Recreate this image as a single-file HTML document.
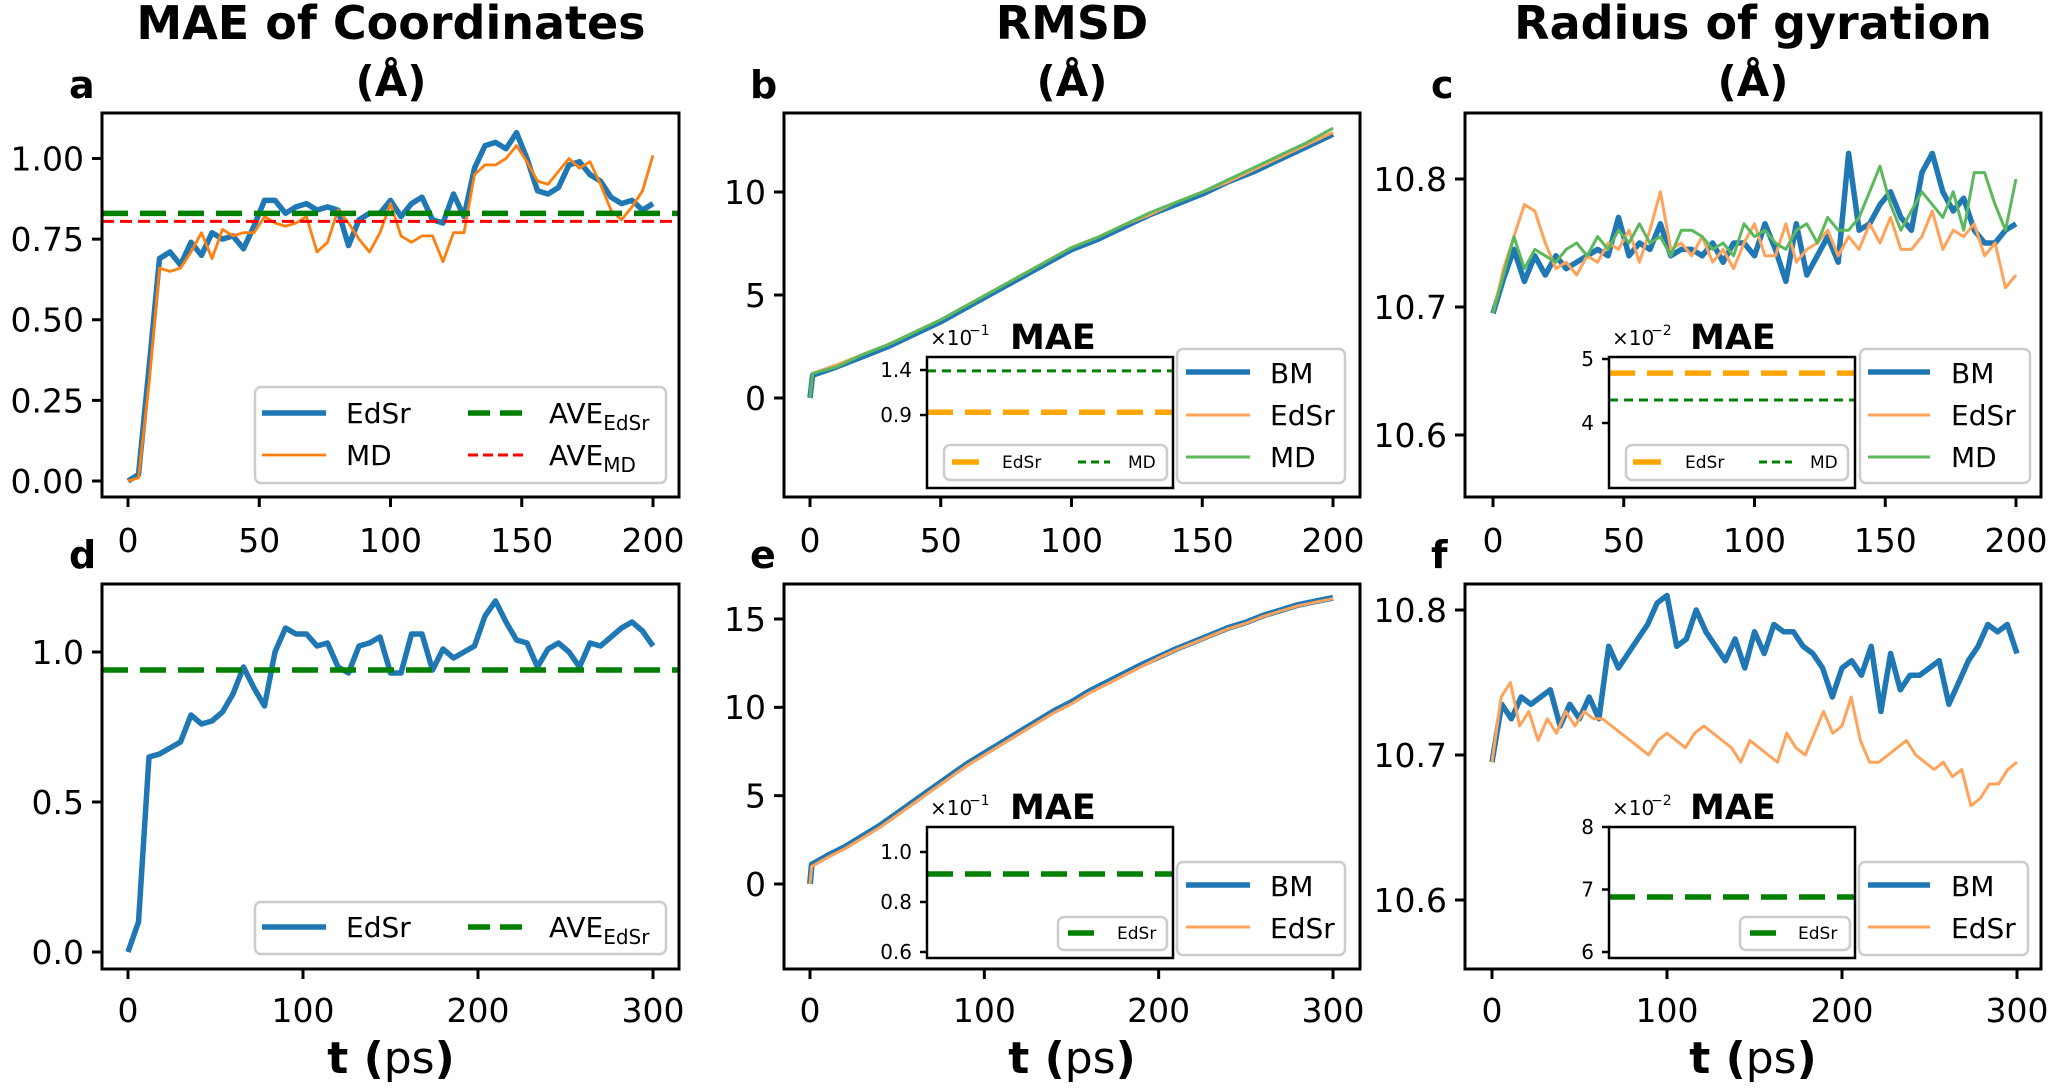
<!DOCTYPE html>
<html><head><meta charset="utf-8"><style>
html,body{margin:0;padding:0;background:#fff;}
svg{display:block;font-family:"DejaVu Sans","Liberation Sans",sans-serif;}
</style></head><body>
<svg id="fig" width="2048" height="1090" viewBox="0 0 2048 1090" xmlns="http://www.w3.org/2000/svg"></svg>
<script>
// ---------- data ----------
const aTicksX = [0,50,100,150,200];
const aTicksY = [0,0.25,0.5,0.75,1.0];
const aTickLabelsY = ["0.00","0.25","0.50","0.75","1.00"];
const aEdSr = [0.0,0.02,0.35,0.69,0.71,0.67,0.74,0.70,0.77,0.75,0.76,0.72,0.79,0.87,0.87,0.83,0.85,0.86,0.84,0.85,0.84,0.73,0.81,0.83,0.83,0.87,0.82,0.86,0.88,0.81,0.80,0.89,0.82,0.97,1.04,1.05,1.03,1.08,1.00,0.90,0.89,0.91,0.98,0.99,0.95,0.93,0.88,0.86,0.87,0.84,0.86];
const aMD = [0.0,0.01,0.30,0.66,0.65,0.66,0.71,0.77,0.69,0.78,0.76,0.77,0.77,0.82,0.80,0.79,0.80,0.82,0.71,0.74,0.84,0.80,0.75,0.71,0.77,0.86,0.76,0.74,0.76,0.76,0.68,0.77,0.77,0.95,0.98,0.98,1.00,1.04,0.99,0.93,0.92,0.96,1.00,0.97,0.99,0.92,0.84,0.81,0.85,0.90,1.01];
const aAveEdSr = 0.83;
const aAveMD = 0.805;

const bTime = [0,1,10,20,30,40,50,60,70,80,90,100,110,120,130,140,150,160,170,180,190,200];
const bBM   = [0,1.1,1.5,2.0,2.5,3.1,3.7,4.4,5.1,5.8,6.5,7.2,7.7,8.3,8.9,9.4,9.9,10.5,11.0,11.6,12.2,12.8];
const bEdSr = [0,1.2,1.6,2.1,2.6,3.2,3.8,4.5,5.2,5.9,6.6,7.3,7.8,8.4,8.9,9.5,10.0,10.5,11.1,11.7,12.3,12.9];
const bMD   = [0,1.2,1.5,2.1,2.6,3.2,3.8,4.5,5.2,5.9,6.6,7.3,7.8,8.4,9.0,9.5,10.0,10.6,11.2,11.8,12.4,13.1];
const bTicksY = [0,5,10];
const bInsetTicks = [0.9,1.4];
const bMaeEdSr = 0.93;
const bMaeMD = 1.39;

const cBM   = [10.695,10.722,10.745,10.72,10.74,10.725,10.74,10.73,10.735,10.74,10.745,10.74,10.77,10.74,10.75,10.745,10.765,10.74,10.745,10.745,10.74,10.75,10.735,10.75,10.75,10.74,10.765,10.745,10.72,10.765,10.725,10.74,10.755,10.735,10.82,10.76,10.765,10.78,10.79,10.77,10.76,10.805,10.82,10.79,10.775,10.785,10.76,10.75,10.75,10.76,10.765];
const cEdSr = [10.695,10.73,10.755,10.78,10.775,10.75,10.73,10.735,10.725,10.74,10.735,10.75,10.745,10.76,10.735,10.76,10.79,10.745,10.75,10.74,10.755,10.735,10.745,10.73,10.75,10.765,10.74,10.74,10.765,10.735,10.745,10.75,10.76,10.74,10.755,10.745,10.765,10.75,10.77,10.745,10.745,10.755,10.775,10.745,10.76,10.755,10.765,10.74,10.75,10.715,10.725];
const cMD   = [10.695,10.725,10.755,10.73,10.745,10.74,10.735,10.745,10.75,10.74,10.755,10.745,10.76,10.75,10.765,10.75,10.755,10.74,10.76,10.76,10.755,10.745,10.75,10.74,10.765,10.755,10.76,10.75,10.745,10.76,10.765,10.75,10.77,10.76,10.76,10.77,10.79,10.81,10.78,10.76,10.775,10.79,10.78,10.77,10.79,10.76,10.805,10.805,10.78,10.76,10.8];
const cTicksY = [10.6,10.7,10.8];
const cInsetTicks = [4,5];
const cMaeEdSr = 4.78;
const cMaeMD = 4.36;

const dTicksX = [0,100,200,300];
const dTicksY = [0,0.5,1.0];
const dTickLabelsY = ["0.0","0.5","1.0"];
const dEdSr = [0,0.1,0.65,0.66,0.68,0.7,0.79,0.76,0.77,0.8,0.86,0.95,0.88,0.82,1.0,1.08,1.06,1.06,1.02,1.03,0.95,0.93,1.02,1.03,1.05,0.93,0.93,1.06,1.06,0.94,1.01,0.98,1.0,1.02,1.12,1.17,1.1,1.04,1.03,0.95,1.01,1.03,1.0,0.95,1.03,1.02,1.05,1.08,1.1,1.07,1.02];
const dAveEdSr = 0.94;

const eTime = [0,1,10,20,30,40,50,60,70,80,90,100,110,120,130,140,150,160,170,180,190,200,210,220,230,240,250,260,270,280,290,300];
const eBM   = [0,1.1,1.6,2.1,2.7,3.3,4.0,4.7,5.4,6.1,6.8,7.4,8.0,8.6,9.2,9.8,10.3,10.9,11.4,11.9,12.4,12.85,13.3,13.7,14.1,14.5,14.8,15.2,15.5,15.8,16.0,16.2];
const eEdSr = [0,1.0,1.5,2.0,2.6,3.2,3.9,4.6,5.3,6.0,6.7,7.3,7.9,8.5,9.1,9.7,10.2,10.8,11.3,11.8,12.3,12.8,13.25,13.65,14.05,14.45,14.75,15.15,15.45,15.75,15.95,16.15];
const eTicksY = [0,5,10,15];
const eInsetTicks = [0.6,0.8,1.0];
const eInsetLabels = ["0.6","0.8","1.0"];
const eMaeEdSr = 0.912;

const fBM   = [10.695,10.735,10.725,10.74,10.735,10.74,10.745,10.72,10.735,10.725,10.74,10.725,10.775,10.76,10.77,10.78,10.79,10.805,10.81,10.775,10.78,10.8,10.785,10.775,10.765,10.78,10.76,10.785,10.77,10.79,10.785,10.785,10.775,10.77,10.76,10.74,10.76,10.765,10.755,10.775,10.73,10.77,10.745,10.755,10.755,10.76,10.765,10.735,10.75,10.765,10.775,10.79,10.785,10.79,10.77];
const fEdSr = [10.695,10.74,10.75,10.72,10.73,10.71,10.725,10.715,10.73,10.72,10.73,10.725,10.725,10.72,10.715,10.71,10.705,10.7,10.71,10.715,10.71,10.705,10.715,10.72,10.715,10.71,10.705,10.695,10.71,10.705,10.7,10.695,10.715,10.705,10.7,10.715,10.73,10.715,10.72,10.74,10.71,10.695,10.695,10.7,10.705,10.71,10.7,10.695,10.69,10.695,10.685,10.69,10.665,10.67,10.68,10.68,10.69,10.695];
const fTicksY = [10.6,10.7,10.8];
const fInsetTicks = [6,7,8];
const fMaeEdSr = 6.88;

// ---------- helpers ----------
const NS = "http://www.w3.org/2000/svg";
const svg = document.getElementById('fig');
function mk(tag, attrs, parent){
  const e = document.createElementNS(NS, tag);
  for (const k in attrs) e.setAttribute(k, attrs[k]);
  (parent || svg).appendChild(e);
  return e;
}
function text(x, y, s, size, anchor, weight, parent){
  const t = mk('text', {x:x, y:y, 'font-size':size, 'text-anchor':anchor||'start', 'font-weight':weight||'normal', fill:'#000'}, parent);
  t.textContent = s;
  return t;
}
function lin(d0, d1, p0, p1){ return v => p0 + (v - d0) * (p1 - p0) / (d1 - d0); }
function idxTime(arr, tmax){ return arr.map((_, i) => i * tmax / (arr.length - 1)); }
function polyline(g, xs, ys, sx, sy, color, w, opacity){
  const pts = xs.map((x, i) => sx(x).toFixed(1) + ',' + sy(ys[i]).toFixed(1)).join(' ');
  return mk('polyline', {points:pts, fill:'none', stroke:color, 'stroke-width':w, 'stroke-linejoin':'round', 'stroke-opacity':opacity||1}, g);
}
function hline(g, x0, x1, y, color, w, dash){
  return mk('line', {x1:x0, x2:x1, y1:y, y2:y, stroke:color, 'stroke-width':w, 'stroke-dasharray':dash||'none'}, g);
}
function frame(g, L, T, R, B, w){
  return mk('rect', {x:L, y:T, width:R-L, height:B-T, fill:'none', stroke:'#000', 'stroke-width':w}, g);
}
function legendBox(g, x, y, w, h){
  return mk('rect', {x:x, y:y, width:w, height:h, rx:6, fill:'#fff', 'fill-opacity':0.85, stroke:'#cccccc', 'stroke-width':2.5}, g);
}
function xAxis(g, ticks, sx, B, baseline){
  ticks.forEach(t => {
    const tk = mk('line', {x1:sx(t), x2:sx(t), y1:B, y2:B+10, stroke:'#000', 'stroke-width':3}, g);
    
    
    const lb = text(sx(t), baseline, String(t), 33, 'middle', 'normal', g);
    
    
  });
}
function yAxis(g, ticks, labels, sy, L, size, len){
  ticks.forEach((t, i) => {
    const tk = mk('line', {x1:L-len, x2:L, y1:sy(t), y2:sy(t), stroke:'#000', 'stroke-width':size > 25 ? 3 : 2.5}, g);
    
    
    const lb = text(L-len-8, sy(t) + size*0.36, labels[i], size, 'end', 'normal', g);
    
    
  });
}
function clip(id, L, T, R, B){
  const defs = mk('defs', {});
  const cp = mk('clipPath', {id:id}, defs);
  mk('rect', {x:L, y:T, width:R-L, height:B-T}, cp);
  return 'url(#' + id + ')';
}
function titleBlock(cx, l1){
  const t1 = text(cx, 39, l1, 46, 'middle', 'bold');
  
  
  const t2 = text(cx, 96, '(Å)', 42, 'middle', 'bold');
  
  
}
function panelLabel(x, y, s){
  const t = text(x, y, s, 38, 'start', 'bold');
  
  
}
function xLabel(cx){
  const t = mk('text', {x:cx, y:1073, 'font-size':44, 'text-anchor':'middle'});
  
  
  const a = mk('tspan', {'font-weight':'bold'}, t); a.textContent = 't (';
  const b = mk('tspan', {}, t); b.textContent = 'ps';
  const c = mk('tspan', {'font-weight':'bold'}, t); c.textContent = ')';
}
function aveText(g, x, y, sub){
  const t = mk('text', {x:x, y:y, 'font-size':28}, g);
  const a = mk('tspan', {}, t); a.textContent = 'AVE';
  const b = mk('tspan', {'font-size':20, dy:7}, t); b.textContent = sub;
  return t;
}
const BLUE = '#1f77b4', ORANGE = '#ff7f0e', LORANGE = '#ffa35a', LGREEN = '#5cb85c', GREEN = '#008000', RED = '#ff0000', GOLD = '#ffa500';

titleBlock(391, 'MAE of Coordinates');
titleBlock(1072, 'RMSD');
titleBlock(1753, 'Radius of gyration');
panelLabel(69, 98, 'a'); panelLabel(750, 98, 'b'); panelLabel(1431, 98, 'c');
panelLabel(69, 568, 'd'); panelLabel(750, 568, 'e'); panelLabel(1431, 568, 'f');
xLabel(391); xLabel(1072); xLabel(1753);

// ---------- panel a ----------
(function(){
  const L=102, R=679, T=113, B=497;
  const g = mk('g', {});  
  const sx = lin(0, 200, 128, 653), sy = lin(0, 1, 481, 158.5);
  const pg = mk('g', {'clip-path':clip('ca', L, T, R, B)}, g);
  const l1 = polyline(pg, idxTime(aEdSr,200), aEdSr, sx, sy, BLUE, 5.5);
   
  const l2 = polyline(pg, idxTime(aMD,200), aMD, sx, sy, ORANGE, 2.8);
   
  const h1 = hline(pg, L, R, sy(aAveEdSr), GREEN, 5.5, '26,12');
   
  const h2 = hline(pg, L, R, sy(aAveMD), RED, 3, '12,6');
   
  frame(g, L, T, R, B, 3);
  xAxis(g, aTicksX, sx, B, 552);
  yAxis(g, aTicksY, aTickLabelsY, sy, L, 33, 10);
  const lg = mk('g', {}, g);  
  legendBox(lg, 255, 387, 411, 96);
  hline(lg, 262, 326, 413, BLUE, 5.5);
  text(346, 423, 'EdSr', 28, 'start', 'normal', lg);
  hline(lg, 262, 326, 455, ORANGE, 2.8);
  text(346, 465, 'MD', 28, 'start', 'normal', lg);
  hline(lg, 468, 526, 413, GREEN, 5.5, '22,10');
  aveText(lg, 549, 423, 'EdSr');
  hline(lg, 468, 526, 455, RED, 3, '10,5');
  aveText(lg, 549, 465, 'MD');
})();

// ---------- panel b ----------
(function(){
  const L=784, R=1360, T=113, B=497;
  const g = mk('g', {});  
  const sx = lin(0, 200, 810, 1333), sy = lin(0, 10, 398, 192);
  const pg = mk('g', {'clip-path':clip('cb', L, T, R, B)}, g);
  const l1 = polyline(pg, bTime, bBM, sx, sy, BLUE, 5.5);
   
  const l2 = polyline(pg, bTime, bEdSr, sx, sy, LORANGE, 3);
   
  const l3 = polyline(pg, bTime, bMD, sx, sy, LGREEN, 3);
   
  frame(g, L, T, R, B, 3);
  xAxis(g, aTicksX, sx, B, 552);
  yAxis(g, bTicksY, bTicksY.map(String), sy, L, 33, 10);
  const ig = mk('g', {}, g);  
  const IL=927, IR=1173, IT=357, IB=488;
  mk('rect', {x:IL, y:IT, width:IR-IL, height:IB-IT, fill:'#fff'}, ig);
  const isy = lin(0.9, 1.4, 415, 370);
  const m1 = hline(ig, IL, IR, isy(bMaeMD), GREEN, 3, '9,6');
   
  const m2 = hline(ig, IL, IR, isy(bMaeEdSr), GOLD, 5.5, '26,12');
   
  frame(ig, IL, IT, IR, IB, 2.5);
  yAxis(ig, bInsetTicks, bInsetTicks.map(String), isy, IL, 20, 7);
  text(930, 345, '×10', 20, 'start', 'normal', ig);
  text(969, 335, '−1', 14, 'start', 'normal', ig);
  text(1010, 349, 'MAE', 35, 'start', 'bold', ig);
  legendBox(ig, 944, 445, 223, 35);
  hline(ig, 952, 979, 462, GOLD, 5.5);
  text(1002, 468, 'EdSr', 17, 'start', 'normal', ig);
  hline(ig, 1078, 1110, 462, GREEN, 3, '8,5');
  text(1128, 468, 'MD', 17, 'start', 'normal', ig);
  const lg = mk('g', {}, g);  
  legendBox(lg, 1177, 349, 168, 134);
  hline(lg, 1186, 1250, 372, BLUE, 5.5); text(1270, 383, 'BM', 28, 'start', 'normal', lg);
  hline(lg, 1186, 1250, 415, LORANGE, 3); text(1270, 425, 'EdSr', 28, 'start', 'normal', lg);
  hline(lg, 1186, 1250, 457, LGREEN, 3); text(1270, 467, 'MD', 28, 'start', 'normal', lg);
})();

// ---------- panel c ----------
(function(){
  const L=1465, R=2041, T=113, B=497;
  const g = mk('g', {});  
  const sx = lin(0, 200, 1493, 2016), sy = lin(10.7, 10.8, 307, 179);
  const pg = mk('g', {'clip-path':clip('cc', L, T, R, B)}, g);
  const l1 = polyline(pg, idxTime(cBM,200), cBM, sx, sy, BLUE, 5.5);
   
  const l2 = polyline(pg, idxTime(cEdSr,200), cEdSr, sx, sy, LORANGE, 3);
   
  const l3 = polyline(pg, idxTime(cMD,200), cMD, sx, sy, LGREEN, 3);
   
  frame(g, L, T, R, B, 3);
  xAxis(g, aTicksX, sx, B, 552);
  yAxis(g, cTicksY, cTicksY.map(String), sy, L, 33, 10);
  const ig = mk('g', {}, g);  
  const IL=1609, IR=1855, IT=357, IB=488;
  mk('rect', {x:IL, y:IT, width:IR-IL, height:IB-IT, fill:'#fff'}, ig);
  const isy = lin(4, 5, 423, 359);
  const m2 = hline(ig, IL, IR, isy(cMaeEdSr), GOLD, 5.5, '26,12');
   
  const m1 = hline(ig, IL, IR, isy(cMaeMD), GREEN, 3, '9,6');
   
  frame(ig, IL, IT, IR, IB, 2.5);
  yAxis(ig, cInsetTicks, cInsetTicks.map(String), isy, IL, 20, 7);
  text(1612, 345, '×10', 20, 'start', 'normal', ig);
  text(1651, 335, '−2', 14, 'start', 'normal', ig);
  text(1690, 349, 'MAE', 35, 'start', 'bold', ig);
  legendBox(ig, 1626, 445, 222, 35);
  hline(ig, 1633, 1661, 462, GOLD, 5.5);
  text(1685, 468, 'EdSr', 17, 'start', 'normal', ig);
  hline(ig, 1759, 1792, 462, GREEN, 3, '8,5');
  text(1810, 468, 'MD', 17, 'start', 'normal', ig);
  const lg = mk('g', {}, g);  
  legendBox(lg, 1860, 349, 170, 134);
  hline(lg, 1868, 1930, 372, BLUE, 5.5); text(1951, 383, 'BM', 28, 'start', 'normal', lg);
  hline(lg, 1868, 1930, 415, LORANGE, 3); text(1951, 425, 'EdSr', 28, 'start', 'normal', lg);
  hline(lg, 1868, 1930, 457, LGREEN, 3); text(1951, 467, 'MD', 28, 'start', 'normal', lg);
})();

// ---------- panel d ----------
(function(){
  const L=102, R=679, T=584, B=969;
  const g = mk('g', {});  
  const sx = lin(0, 300, 128, 653), sy = lin(0, 1, 952, 652);
  const pg = mk('g', {'clip-path':clip('cd', L, T, R, B)}, g);
  const l1 = polyline(pg, idxTime(dEdSr,300), dEdSr, sx, sy, BLUE, 5.5);
   
  const h1 = hline(pg, L, R, sy(dAveEdSr), GREEN, 5.5, '26,12');
   
  frame(g, L, T, R, B, 3);
  xAxis(g, dTicksX, sx, B, 1022);
  yAxis(g, dTicksY, dTickLabelsY, sy, L, 33, 10);
  const lg = mk('g', {}, g);  
  legendBox(lg, 255, 902, 411, 52);
  hline(lg, 262, 326, 927, BLUE, 5.5);
  text(346, 937, 'EdSr', 28, 'start', 'normal', lg);
  hline(lg, 468, 526, 927, GREEN, 5.5, '22,10');
  aveText(lg, 549, 937, 'EdSr');
})();

// ---------- panel e ----------
(function(){
  const L=784, R=1360, T=584, B=969;
  const g = mk('g', {});  
  const sx = lin(0, 300, 810, 1333), sy = lin(0, 15, 884, 619);
  const pg = mk('g', {'clip-path':clip('ce', L, T, R, B)}, g);
  const l1 = polyline(pg, eTime, eBM, sx, sy, BLUE, 6);
   
  const l2 = polyline(pg, eTime, eEdSr, sx, sy, LORANGE, 3);
   
  frame(g, L, T, R, B, 3);
  xAxis(g, dTicksX, sx, B, 1022);
  yAxis(g, eTicksY, eTicksY.map(String), sy, L, 33, 10);
  const ig = mk('g', {}, g);  
  const IL=927, IR=1173, IT=827, IB=958;
  mk('rect', {x:IL, y:IT, width:IR-IL, height:IB-IT, fill:'#fff'}, ig);
  const isy = lin(0.6, 1.0, 952, 852);
  const m1 = hline(ig, IL, IR, isy(eMaeEdSr), GREEN, 5.5, '26,12');
   
  frame(ig, IL, IT, IR, IB, 2.5);
  yAxis(ig, eInsetTicks, eInsetLabels, isy, IL, 20, 7);
  text(930, 815, '×10', 20, 'start', 'normal', ig);
  text(969, 805, '−1', 14, 'start', 'normal', ig);
  text(1010, 819, 'MAE', 35, 'start', 'bold', ig);
  legendBox(ig, 1058, 917, 109, 33);
  hline(ig, 1068, 1094, 933, GREEN, 5.5);
  text(1117, 939, 'EdSr', 17, 'start', 'normal', ig);
  const lg = mk('g', {}, g);  
  legendBox(lg, 1177, 862, 168, 93);
  hline(lg, 1186, 1250, 885, BLUE, 5.5); text(1270, 896, 'BM', 28, 'start', 'normal', lg);
  hline(lg, 1186, 1250, 927, LORANGE, 3); text(1270, 938, 'EdSr', 28, 'start', 'normal', lg);
})();

// ---------- panel f ----------
(function(){
  const L=1465, R=2041, T=584, B=969;
  const g = mk('g', {});  
  const sx = lin(0, 300, 1492, 2017), sy = lin(10.7, 10.8, 755, 610);
  const pg = mk('g', {'clip-path':clip('cf', L, T, R, B)}, g);
  const l1 = polyline(pg, idxTime(fBM,300), fBM, sx, sy, BLUE, 5.5);
   
  const l2 = polyline(pg, idxTime(fEdSr,300), fEdSr, sx, sy, LORANGE, 3);
   
  frame(g, L, T, R, B, 3);
  xAxis(g, dTicksX, sx, B, 1022);
  yAxis(g, fTicksY, fTicksY.map(String), sy, L, 33, 10);
  const ig = mk('g', {}, g);  
  const IL=1609, IR=1855, IT=827, IB=958;
  mk('rect', {x:IL, y:IT, width:IR-IL, height:IB-IT, fill:'#fff'}, ig);
  const isy = lin(6, 8, 952, 827);
  const m1 = hline(ig, IL, IR, isy(fMaeEdSr), GREEN, 5.5, '26,12');
   
  frame(ig, IL, IT, IR, IB, 2.5);
  yAxis(ig, fInsetTicks, fInsetTicks.map(String), isy, IL, 20, 7);
  text(1612, 815, '×10', 20, 'start', 'normal', ig);
  text(1651, 805, '−2', 14, 'start', 'normal', ig);
  text(1690, 819, 'MAE', 35, 'start', 'bold', ig);
  legendBox(ig, 1740, 917, 110, 33);
  hline(ig, 1750, 1776, 933, GREEN, 5.5);
  text(1798, 939, 'EdSr', 17, 'start', 'normal', ig);
  const lg = mk('g', {}, g);  
  legendBox(lg, 1859, 862, 169, 93);
  hline(lg, 1868, 1930, 885, BLUE, 5.5); text(1951, 896, 'BM', 28, 'start', 'normal', lg);
  hline(lg, 1868, 1930, 927, LORANGE, 3); text(1951, 938, 'EdSr', 28, 'start', 'normal', lg);
})();
</script>
</body></html>
